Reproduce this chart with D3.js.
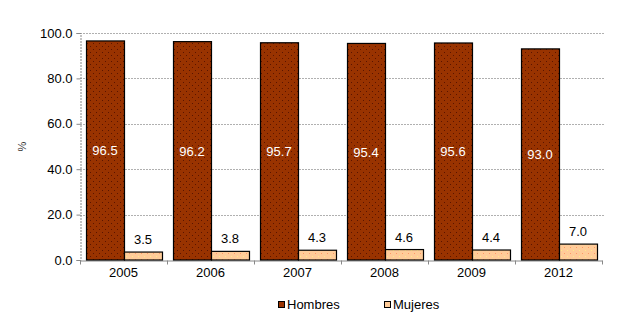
<!DOCTYPE html>
<html>
<head>
<meta charset="utf-8">
<script src="https://cdn.jsdelivr.net/npm/d3@7"></script>
<style>
  html, body { margin: 0; padding: 0; background: #fff; }
  svg { display: block; font-family: "Liberation Sans", Arial, sans-serif; }
</style>
</head>
<body>
<svg id="chart" width="618" height="323"></svg>
<script>
const years = ["2005", "2006", "2007", "2008", "2009", "2012"];
const hombres = [96.5, 96.2, 95.7, 95.4, 95.6, 93.0];
const mujeres = [3.5, 3.8, 4.3, 4.6, 4.4, 7.0];
const yTicks = [0, 20, 40, 60, 80, 100];
const seriesNames = ["Hombres", "Mujeres"];

const svg = d3.select("#chart");
const margin = { left: 80, right: 16, top: 33, bottom: 64 };
const W = 618, H = 323;

const x = d3.scaleBand().domain(years).range([margin.left, W - margin.right]);
const inner = d3.scaleBand().domain(seriesNames).range([6, x.bandwidth() - 5]);
const y = d3.scaleLinear().domain([0, 100]).range([H - margin.bottom + 1, margin.top]);

// dotted fill patterns
const defs = svg.append("defs");
function pattern(id, bg, dots) {
  const p = defs.append("pattern").attr("id", id).attr("patternUnits", "userSpaceOnUse")
    .attr("width", 6).attr("height", 6);
  p.append("rect").attr("width", 6).attr("height", 6).attr("fill", bg);
  p.append("rect").attr("x", 1).attr("y", 1).attr("width", 1).attr("height", 1).attr("fill", dots[0]);
  p.append("rect").attr("x", 4).attr("y", 4).attr("width", 1).attr("height", 1).attr("fill", dots[1]);
}
pattern("pH", "#993300", ["#5a1400", "#5a1400"]);
pattern("pM", "#FFCC99", ["#ff9966", "#ffee88"]);
const fills = { Hombres: "url(#pH)", Mujeres: "url(#pM)" };
const solid = { Hombres: "#993300", Mujeres: "#FFCC99" };

// gridlines
svg.append("g").selectAll("line").data(yTicks.filter(d => d > 0)).join("line")
  .attr("x1", margin.left).attr("x2", W - margin.right + 3)
  .attr("y1", d => Math.round(y(d)) + 0.5).attr("y2", d => Math.round(y(d)) + 0.5)
  .attr("stroke", "#b0b0b0").attr("stroke-dasharray", "2,1").attr("stroke-width", 1);

// y axis
const yAxis = d3.axisLeft(y).tickValues(yTicks).tickFormat(d3.format(".1f")).tickSize(4).tickPadding(4);
const gy = svg.append("g").attr("transform", `translate(${margin.left + 0.5},0)`).call(yAxis);
gy.select(".domain").attr("stroke", "#888").attr("stroke-dasharray", "2,1");
gy.selectAll(".tick line").attr("stroke", "#888");
gy.selectAll("text").attr("font-size", 13).attr("fill", "#000")
  .attr("font-family", "Liberation Sans, Arial, sans-serif");

// y title
svg.append("text").attr("transform", `translate(26,${(y(0) + y(100)) / 2}) rotate(-90)`)
  .attr("text-anchor", "middle").attr("font-size", 11).attr("fill", "#333").text("%");

// x axis
const xAxis = d3.axisBottom(x).tickSize(0).tickPadding(7);
const gx = svg.append("g").attr("transform", `translate(0,${Math.round(y(0)) + 0.5})`).call(xAxis);
gx.select(".domain").attr("stroke", "#888");
gx.selectAll("text").attr("font-size", 13).attr("fill", "#000")
  .attr("font-family", "Liberation Sans, Arial, sans-serif");
// band boundary ticks
gx.append("g").selectAll("line").data(d3.range(years.length + 1)).join("line")
  .attr("x1", i => Math.round(margin.left + i * x.step()) + 0.5)
  .attr("x2", i => Math.round(margin.left + i * x.step()) + 0.5)
  .attr("y1", 0).attr("y2", 4).attr("stroke", "#888");

// bars
const rows = years.map((yr, i) => ({ yr, Hombres: hombres[i], Mujeres: mujeres[i] }));
const groups = svg.append("g").selectAll("g").data(rows).join("g")
  .attr("transform", d => `translate(${x(d.yr)},0)`);

groups.selectAll("rect").data(d => seriesNames.map(k => ({ k, v: d[k] }))).join("rect")
  .attr("x", d => inner(d.k) + 0.5)
  .attr("y", d => y(d.v))
  .attr("width", inner.bandwidth())
  .attr("height", d => y(0) - y(d.v))
  .attr("fill", d => fills[d.k])
  .attr("stroke", "#000").attr("stroke-width", 1.2);

// value labels
groups.append("text")
  .attr("x", inner("Hombres") + inner.bandwidth() / 2)
  .attr("y", d => (y(d.Hombres) + y(0)) / 2 + 5)
  .attr("text-anchor", "middle").attr("font-size", 13).attr("fill", "#fff")
  .text(d => d.Hombres.toFixed(1));
groups.append("text")
  .attr("x", inner("Mujeres") + inner.bandwidth() / 2)
  .attr("y", d => y(d.Mujeres) - 8)
  .attr("text-anchor", "middle").attr("font-size", 13).attr("fill", "#000")
  .text(d => d.Mujeres.toFixed(1));

// legend
const legendX = [278, 384];
const lg = svg.append("g").selectAll("g").data(seriesNames).join("g")
  .attr("transform", (d, i) => `translate(${legendX[i]},301)`);
lg.append("rect").attr("x", 0.5).attr("y", 0.5).attr("width", 6).attr("height", 6)
  .attr("fill", d => solid[d]).attr("stroke", "#000").attr("stroke-width", 1);
lg.append("text").attr("x", 9).attr("y", 8).attr("font-size", 13).attr("fill", "#000").text(d => d);
</script>
</body>
</html>
